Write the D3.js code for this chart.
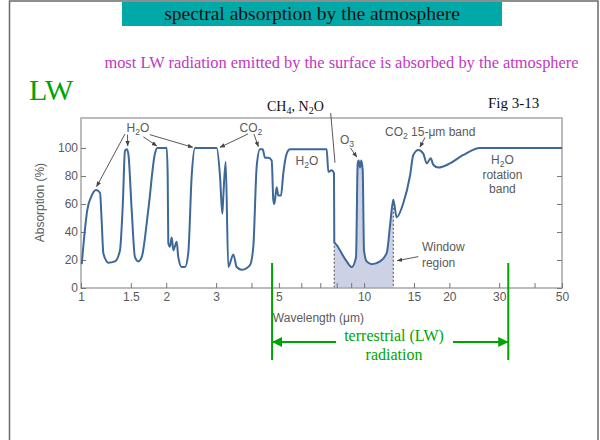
<!DOCTYPE html>
<html><head><meta charset="utf-8">
<script src="https://cdn.jsdelivr.net/npm/d3@7"></script>
<style>body{margin:0;background:#fff;} svg{display:block;}</style>
</head><body>
<svg id="c" width="600" height="440"></svg>
<script>
// ---- data ----
const wavelength = [1.006,1.053,1.091,1.130,1.167,1.183,1.199,1.232,1.246,1.318,1.373,1.405,1.430,1.450,1.469,1.510,1.551,1.594,1.638,1.729,1.825,1.860,2.008,2.024,2.034,2.062,2.091,2.119,2.178,2.206,2.268,2.330,2.393,2.460,2.527,3.015,3.097,3.156,3.181,3.244,3.313,3.451,3.548,3.695,3.953,4.061,4.175,4.288,4.383,4.466,4.588,4.716,4.778,4.817,4.911,4.976,5.087,5.183,5.328,5.473,7.377,7.473,7.682,7.827,7.846,8.001,8.679,9.040,9.362,9.492,9.569,9.671,9.774,9.886,9.991,10.21,10.64,11.38,12.02,12.34,12.68,13.03,13.75,14.52,14.92,15.54,16.18,16.64,17.19,17.55,18.28,20.11,22.41,25.66,50];
const absorption = [17,56,66,70,68,48,25,19,18,19,27,60,98,99,96,56,22,19,22,56,96,100,100,80,32,29.5,36,27,33,22,15,15,25,80,100,100,80,53,65,90,15,24,15,13,16.4,29.5,87,99,99,93,93,91,63,60,72,66,66,82,96,99,99,83,84,82,33,30.7,19,15,22,89,91,86,91,84,27,19,17,19,25,44,63,50.5,60.5,80,95,98.6,96,89,92.6,88,86,89,95,100,100];
const xTickValues = [1,1.5,2,3,4,5,6,7,8,9,10,15,20,30,40,50];
const xTickLabels = [1,1.5,2,3,5,10,15,20,30,50];
const yTickValues = [0,20,40,60,80,100];
const windowRange = [7.846, 12.68];
const lwRange = [4.73, 32.3];

const svg = d3.select("#c");
const x = d3.scaleLog().domain([1,50]).range([81,562]);
const y = d3.scaleLinear().domain([0,121.4]).range([288,118]);
const gray = "#5a5a5a";
const sans = "'Liberation Sans', Arial, sans-serif";
const serif = "'Liberation Serif', 'Times New Roman', serif";
const green = "#00a400";

// markers
const defs = svg.append("defs");
defs.append("marker").attr("id","ga").attr("viewBox","0 0 10 10").attr("refX",9).attr("refY",5)
  .attr("markerWidth",6).attr("markerHeight",6).attr("orient","auto")
  .append("path").attr("d","M0,1 L10,5 L0,9 z").attr("fill","#444");
defs.append("marker").attr("id","gr").attr("viewBox","0 0 10 10").attr("refX",9).attr("refY",5)
  .attr("markerWidth",5).attr("markerHeight",5).attr("orient","auto")
  .append("path").attr("d","M0,0 L10,5 L0,10 z").attr("fill",green);

// slide border
svg.append("rect").attr("x",9.5).attr("y",1).attr("width",588.5).attr("height",460)
  .attr("fill","none").attr("stroke","#6a6a6a").attr("stroke-width",1.5);
// title
svg.append("rect").attr("x",122).attr("y",2).attr("width",380).attr("height",24).attr("fill","#00a9a8");
svg.append("text").attr("x",312).attr("y",20).attr("text-anchor","middle")
  .attr("font-family",serif).attr("font-size",19.5).attr("fill","#111")
  .text("spectral absorption by the atmosphere");
svg.append("text").attr("x",341.5).attr("y",68).attr("text-anchor","middle")
  .attr("font-family",serif).attr("font-size",16.4).attr("fill","#c038c0")
  .text("most LW radiation emitted by the surface is absorbed by the atmosphere");
svg.append("text").attr("x",29).attr("y",100)
  .attr("font-family",serif).attr("font-size",30).attr("fill",green).text("LW");
svg.append("text").attr("x",488).attr("y",108)
  .attr("font-family",serif).attr("font-size",15).attr("fill","#111").text("Fig 3-13");

// window shading
const line = d3.line().x((d)=>x(d[0])).y((d)=>y(d[1])).curve(d3.curveMonotoneX);
const pts = wavelength.map((w,i)=>[w,absorption[i]]);
const winPts = pts.filter(d=>d[0]>=windowRange[0]-1e-6 && d[0]<=windowRange[1]+1e-6);
const area = d3.area().x(d=>x(d[0])).y0(y(0)).y1(d=>y(d[1])).curve(d3.curveMonotoneX);
svg.append("path").datum(winPts).attr("d",area).attr("fill","#cdd1e5");
winPts.filter((d,i)=>i===0||i===winPts.length-1).forEach(d=>{
  svg.append("line").attr("x1",x(d[0])).attr("x2",x(d[0])).attr("y1",y(d[1])).attr("y2",y(0))
    .attr("stroke","#666").attr("stroke-width",1.2).attr("stroke-dasharray","2,2");
});

// frame
svg.append("rect").attr("x",81).attr("y",118).attr("width",481).attr("height",170)
  .attr("fill","none").attr("stroke","#a6a6a6").attr("stroke-width",1.5);

// axes
const xAxis = d3.axisBottom(x).tickValues(xTickValues).tickSize(-5).tickPadding(4)
  .tickFormat(d=>xTickLabels.includes(d)?String(d):"");
const gx = svg.append("g").attr("transform","translate(0,288)").call(xAxis);
const yAxis = d3.axisLeft(y).tickValues(yTickValues).tickSize(-5).tickPadding(3);
const gy = svg.append("g").attr("transform","translate(81,0)").call(yAxis);
const yAxisR = d3.axisRight(y).tickValues(yTickValues).tickSize(-5).tickFormat("");
const gyr = svg.append("g").attr("transform","translate(562,0)").call(yAxisR);
[gx,gy,gyr].forEach(g=>{
  g.select(".domain").remove();
  g.selectAll(".tick line").attr("stroke","#777");
  g.selectAll("text").attr("font-family",sans).attr("font-size",12).attr("fill",gray);
});

// curve
svg.append("path").datum(pts).attr("d",line).attr("fill","none")
  .attr("stroke","#3d6898").attr("stroke-width",2);

// axis titles
svg.append("text").attr("transform",`translate(44,${y(61)}) rotate(-90)`).attr("text-anchor","middle")
  .attr("font-family",sans).attr("font-size",12).attr("fill",gray).text("Absorption (%)");
svg.append("text").attr("x",x(4.76)).attr("y",322)
  .attr("font-family",sans).attr("font-size",12).attr("fill",gray).text("Wavelength (μm)");

// annotation helpers
function label(parts, lx, ly, anchor, size, color, font){
  const fs = size||12;
  const t = svg.append("text").attr("x",x(lx)).attr("y",y(ly)).attr("text-anchor",anchor||"middle")
    .attr("font-family",font||sans).attr("font-size",fs).attr("fill",color||gray);
  let lowered = false;
  parts.forEach(p=>{
    if (p.sub) {
      t.append("tspan").attr("font-size",fs*0.72).attr("dy",lowered?0:3).text(p.sub);
      lowered = true;
    } else {
      t.append("tspan").attr("dy",lowered?-3:0).text(p.t);
      lowered = false;
    }
  });
  return t;
}
function arrow(x1,y1,x2,y2,head){
  const l = svg.append("line").attr("x1",x(x1)).attr("y1",y(y1)).attr("x2",x(x2)).attr("y2",y(y2))
    .attr("stroke","#444").attr("stroke-width",0.9);
  if (head!==false) l.attr("marker-end","url(#ga)");
}
label([{t:"H"},{sub:"2"},{t:"O"}],1.59,111.5);
arrow(1.43,110,1.136,72.5);
arrow(1.46,109.5,1.462,101.5);
arrow(1.66,108,1.851,101.5);
arrow(1.75,109.5,2.48,100.5);
label([{t:"CO"},{sub:"2"}],3.985,111.5);
arrow(3.89,110,3.10,100.5);
arrow(4.08,110,4.23,101);
label([{t:"H"},{sub:"2"},{t:"O"}],6.28,88);
label([{t:"CH"},{sub:"4"},{t:", N"},{sub:"2"},{t:"O"}],4.54,126.4,"start",14,"#111",serif);
arrow(7.62,125,7.89,89.5,false);
label([{t:"O"},{sub:"3"}],8.70,102.5);
arrow(8.95,100,9.42,93.5);
label([{t:"CO"},{sub:"2"},{t:" 15-μm band"}],11.85,108.6,"start");
arrow(16.41,107.5,15.75,100.6);
label([{t:"H"},{sub:"2"},{t:"O"}],30.8,88.6);
label([{t:"rotation"}],30.8,78);
label([{t:"band"}],30.8,67.6);
label([{t:"Window"}],16.0,26.1,"start");
label([{t:"region"}],16.0,15,"start");
arrow(15.54,22.4,13.1,19.5);

// terrestrial LW bracket
lwRange.forEach(v=>{
  svg.append("line").attr("x1",x(v)).attr("x2",x(v)).attr("y1",263).attr("y2",360)
    .attr("stroke",green).attr("stroke-width",2);
});
svg.append("line").attr("x1",336).attr("x2",x(lwRange[0])+1).attr("y1",342).attr("y2",342)
  .attr("stroke",green).attr("stroke-width",2).attr("marker-end","url(#gr)");
svg.append("line").attr("x1",453).attr("x2",x(lwRange[1])-1).attr("y1",342).attr("y2",342)
  .attr("stroke",green).attr("stroke-width",2).attr("marker-end","url(#gr)");
svg.append("text").attr("x",394).attr("y",341).attr("text-anchor","middle")
  .attr("font-family",serif).attr("font-size",16).attr("fill",green).text("terrestrial (LW)");
svg.append("text").attr("x",394).attr("y",360).attr("text-anchor","middle")
  .attr("font-family",serif).attr("font-size",16).attr("fill",green).text("radiation");
</script>
</body></html>
